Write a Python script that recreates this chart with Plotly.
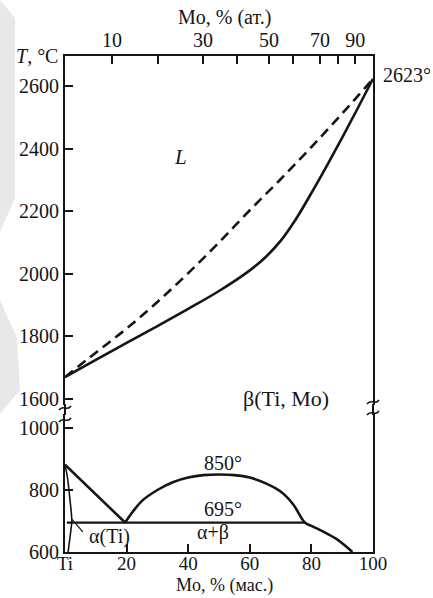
import plotly.graph_objects as go

# ---------------- data ----------------
# upper panel (liquidus / solidus), x = Mo wt.%
sol_wt = [0, 10, 20, 30, 40, 50, 60, 65, 70, 75, 80, 85, 90, 95, 100]
sol_T = [1670, 1725, 1779, 1833, 1888, 1945, 2011, 2052, 2105, 2175, 2258, 2345, 2435, 2528, 2623]
liq_wt = [0, 10, 20, 30, 40, 50, 60, 70, 80, 90, 100]
liq_T = [1670, 1748, 1825, 1910, 2002, 2100, 2203, 2302, 2405, 2512, 2623]

# lower panel
transus_wt = [0, 19.5]
transus_T = [882, 695]
gap_wt = [19.5, 22, 25, 30, 35, 40, 45, 50, 55, 60, 65, 70, 74, 77.9, 80, 84, 88, 91, 93.3]
gap_T = [695, 730, 765, 800, 825, 840, 848, 850, 848, 840, 822, 795, 755, 695, 684, 665, 643, 620, 600]
eut_wt = [0.6, 77.9]
eut_T = [695, 695]
alpha_wt = [0, 0.8, 1.6, 2.2, 1.9, 1.4, 1.0]
alpha_T = [882, 840, 770, 700, 670, 630, 600]
leader_wt = [2.2, 5.8]
leader_T = [706, 665]

# axes ticks
bottom_vals = [0, 20, 40, 60, 80, 100]
bottom_text = ["Ti", "20", "40", "60", "80", "100"]
upper_T_ticks = [1600, 1800, 2000, 2200, 2400, 2600]
lower_T_ticks = [600, 800, 1000]
top_at = [10, 20, 30, 40, 50, 60, 70, 80, 90]
top_pos_wt = [15.3, 30.2, 44.8, 55.8, 66.2, 74.0, 82.8, 88.6, 94.2]
top_labels = ["10", "", "30", "", "50", "", "70", "", "90"]

# ---------------- layout geometry ----------------
W, H = 433, 598
L_, R_, T_, B_ = 65, 60, 56, 46
PW = W - L_ - R_
PH = H - T_ - B_


def pp(px, py):
    return (px - L_) / PW, (H - B_ - py) / PH


INK = "#151515"
FONT = "Liberation Serif"

fig = go.Figure()

fig.add_trace(go.Scatter(x=sol_wt, y=sol_T, xaxis="x", yaxis="y2", mode="lines",
                         line=dict(color=INK, width=2.6, shape="spline"), hoverinfo="skip"))
fig.add_trace(go.Scatter(x=liq_wt, y=liq_T, xaxis="x", yaxis="y2", mode="lines",
                         line=dict(color=INK, width=2.6, shape="spline", dash="10px,6px"), hoverinfo="skip"))
fig.add_trace(go.Scatter(x=transus_wt, y=transus_T, xaxis="x", yaxis="y", mode="lines",
                         line=dict(color=INK, width=2.6), hoverinfo="skip"))
fig.add_trace(go.Scatter(x=gap_wt, y=gap_T, xaxis="x", yaxis="y", mode="lines",
                         line=dict(color=INK, width=2.6, shape="spline"), hoverinfo="skip"))
fig.add_trace(go.Scatter(x=eut_wt, y=eut_T, xaxis="x", yaxis="y", mode="lines",
                         line=dict(color=INK, width=2.2), hoverinfo="skip"))
fig.add_trace(go.Scatter(x=alpha_wt, y=alpha_T, xaxis="x", yaxis="y", mode="lines",
                         line=dict(color=INK, width=1.6, shape="spline"), hoverinfo="skip"))
fig.add_trace(go.Scatter(x=leader_wt, y=leader_T, xaxis="x", yaxis="y", mode="lines",
                         line=dict(color=INK, width=1.2), hoverinfo="skip"))
# invisible trace to carry the top axis
fig.add_trace(go.Scatter(x=[0, 100], y=[2000, 2000], xaxis="x3", yaxis="y2", mode="lines",
                         line=dict(width=0), opacity=0, hoverinfo="skip"))

lower_top = pp(0, 414)[1]
upper_bot = pp(0, 405)[1]
T_per_px_up = 1 / 0.3135
T_per_px_lo = 1 / 0.31

tickfont = dict(family=FONT, size=20, color=INK)
axis_common = dict(showgrid=False, zeroline=False, showline=True, linecolor=INK, linewidth=2,
                   ticks="inside", ticklen=8, tickwidth=1.6, tickcolor=INK)

fig.update_layout(
    width=W, height=H,
    margin=dict(l=L_, r=R_, t=T_, b=B_),
    paper_bgcolor="white", plot_bgcolor="white",
    showlegend=False,
    xaxis=dict(domain=[0, 1], range=[0, 100], anchor="y", side="bottom",
               tickvals=bottom_vals, ticktext=bottom_text, mirror=False,
               ticklabelstandoff=-7, tickfont=dict(family=FONT, size=19, color=INK), **axis_common),
    xaxis3=dict(domain=[0, 1], range=[0, 100], anchor="y2", side="top", overlaying="x",
                tickvals=top_pos_wt, ticktext=top_labels, ticklabelstandoff=-1,
                tickfont=tickfont, **axis_common),
    yaxis=dict(domain=[0, lower_top], range=[600, 600 + 138 * T_per_px_lo], anchor="x",
               tickvals=lower_T_ticks, mirror=True, tickfont=tickfont, **axis_common),
    yaxis2=dict(domain=[upper_bot, 1], range=[1600 - 6 * T_per_px_up, 2600 + 30 * T_per_px_up],
                anchor="x", tickvals=upper_T_ticks, mirror=True, tickfont=tickfont, **axis_common),
)

shapes = []
# watermark-like light grey chevrons at the far left
for poly in ([(0, 0), (15, 18), (15, 198), (0, 232)], [(0, 300), (17, 338), (20, 390), (0, 414)]):
    pts = [pp(*p) for p in poly]
    path = "M " + " L ".join(f"{a:.4f},{b:.4f}" for a, b in pts) + " Z"
    shapes.append(dict(type="path", xref="paper", yref="paper", path=path,
                       fillcolor="#e8e8e8", line=dict(width=0), layer="below"))
# vertical axis lines through the break
for xp in (0, 1):
    shapes.append(dict(type="line", xref="paper", yref="paper", x0=xp, x1=xp,
                       y0=lower_top - 0.002, y1=upper_bot + 0.002, line=dict(color=INK, width=2)))


def squiggle(px, py):
    a = pp(px - 6, py + 2)
    c1 = pp(px - 2, py - 4)
    c2 = pp(px + 2, py + 4)
    b = pp(px + 6, py - 2)
    return dict(type="path", xref="paper", yref="paper",
                path=f"M {a[0]:.4f},{a[1]:.4f} C {c1[0]:.4f},{c1[1]:.4f} {c2[0]:.4f},{c2[1]:.4f} {b[0]:.4f},{b[1]:.4f}",
                line=dict(color=INK, width=1.6))


for (sx, sy) in [(65, 408), (65, 420), (373, 402), (373, 413)]:
    shapes.append(squiggle(sx, sy))
fig.update_layout(shapes=shapes)

ann = []


def add_text(txt, px, py, size=20, xanchor="center", yanchor="middle"):
    xp, yp = pp(px, py)
    ann.append(dict(text=txt, x=xp, y=yp, xref="paper", yref="paper", showarrow=False,
                    xanchor=xanchor, yanchor=yanchor, font=dict(family=FONT, size=size, color=INK)))


add_text("Mo, % (ат.)", 224, 18, 20)
add_text("Mo, % (мас.)", 225, 598, 18, yanchor="bottom")
add_text("<i>T</i>, °C", 37, 56, 20)
add_text("2623°", 407, 75, 20)
add_text("<i>L</i>", 180, 157, 21)
add_text("β(Ti, Mo)", 286, 398, 22)
add_text("850°", 223, 463, 20)
add_text("695°", 223, 509, 20)
add_text("α+β", 213, 532, 20)
add_text("α(Ti)", 109, 536, 20)
fig.update_layout(annotations=ann)

fig.write_html("out.html")
